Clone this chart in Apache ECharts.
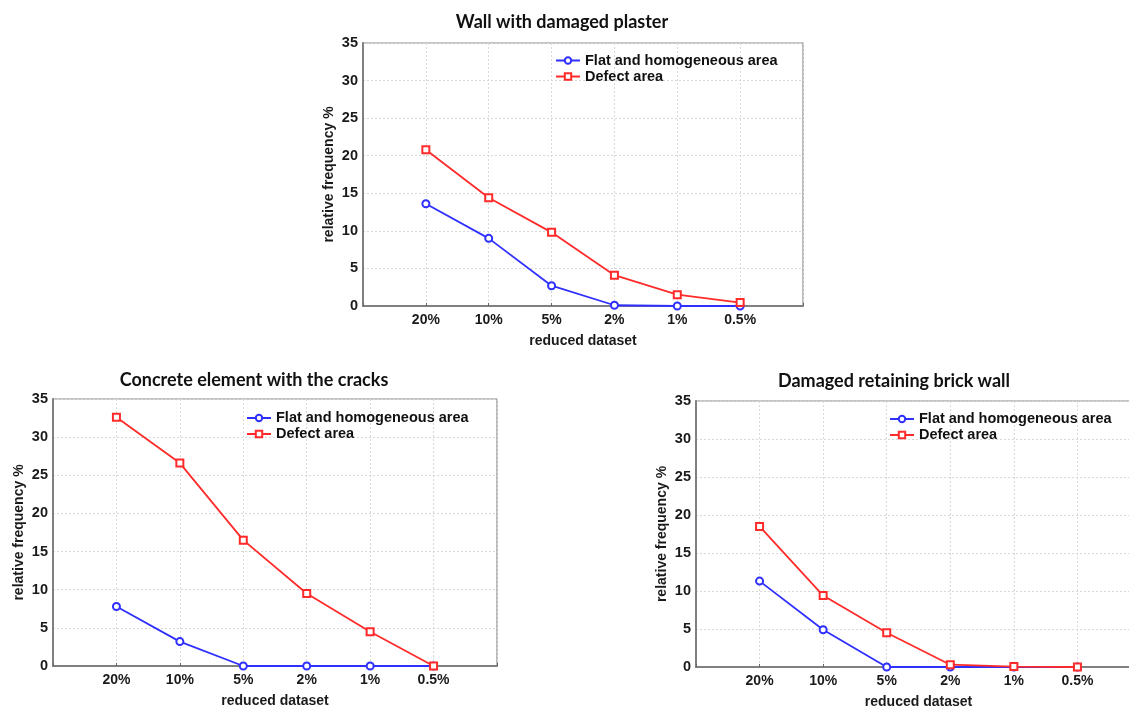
<!DOCTYPE html>
<html>
<head>
    <meta charset="utf-8" />
    <title>reduced dataset</title>
    <script src="https://cdn.jsdelivr.net/npm/echarts@6.0.0/dist/echarts.min.js"></script>
    <style>
        html, body { margin: 0; padding: 0; background: #fff; }
        #chart { width: 1129px; height: 709px; }
    </style>
</head>
<body>
    <div id="chart"></div>

    <script type="text/javascript">
        // reduced dataset levels (x axis)
        var levels = ['20%', '10%', '5%', '2%', '1%', '0.5%'];
        var seriesNames = ['Flat and homogeneous area', 'Defect area'];
        var panelTitles = ['Wall with damaged plaster', 'Concrete element with the cracks', 'Damaged retaining brick wall'];

        // relative frequency %
        var plasterFlat = [13.6, 9.0, 2.7, 0.1, 0, 0];
        var plasterDefect = [20.8, 14.4, 9.8, 4.1, 1.5, 0.45];
        var cracksFlat = [7.8, 3.2, 0, 0, 0, 0];
        var cracksDefect = [32.6, 26.6, 16.5, 9.5, 4.5, 0];
        var brickFlat = [11.3, 4.9, 0, 0, 0, 0];
        var brickDefect = [18.5, 9.4, 4.5, 0.3, 0.05, 0];

        var yMin = 0, yMax = 35, yStep = 5;

        // layout of the three panels (the right one runs off the page edge)
        var panels = [
            { grid: { left: 363, top: 43, width: 440, height: 263 }, titleX: 562, titleY: 13, legend: { left: 555, top: 52.5 }, flat: plasterFlat, defect: plasterDefect },
            { grid: { left: 53, top: 399, width: 444, height: 267 }, titleX: 254, titleY: 371, legend: { left: 246, top: 410 }, flat: cracksFlat, defect: cracksDefect },
            { grid: { left: 696, top: 401, width: 445, height: 266 }, titleX: 894, titleY: 372, legend: { left: 889, top: 411 }, flat: brickFlat, defect: brickDefect }
        ];

        var blue = '#2f2fff';
        var red = '#ff2b2b';
        var axisGray = '#808080';
        var gridLine = { show: true, lineStyle: { color: '#d8d8d8', type: [2, 2], width: 1 } };
        var fontFam = '"Liberation Sans", Arial, sans-serif';
        var labelFont = { color: '#1a1a1a', fontSize: 14, fontWeight: 'bold', fontFamily: fontFam };

        // empty slot at each end so the points sit one step inside the frame
        var xCats = [''].concat(levels).concat(['']);
        function pad(arr) {
            return ['-'].concat(arr).concat(['-']);
        }

        var option = {
            backgroundColor: '#fff',
            animation: false,
            title: [],
            legend: [],
            grid: [],
            xAxis: [],
            yAxis: [],
            series: []
        };

        panels.forEach(function(p, i) {
            option.title.push({
                text: panelTitles[i],
                left: p.titleX,
                top: p.titleY,
                padding: 0,
                textAlign: 'center',
                textStyle: { fontFamily: 'Lato, sans-serif', fontWeight: 'bold', fontSize: 18, color: '#111' }
            });
            option.grid.push({
                left: p.grid.left,
                top: p.grid.top,
                width: p.grid.width,
                height: p.grid.height,
                outerBoundsMode: 'none',
                containLabel: false,
                show: true,
                borderColor: '#8c8c8c',
                borderWidth: 1.2,
                backgroundColor: 'transparent'
            });
            option.xAxis.push({
                type: 'category',
                gridIndex: i,
                data: xCats,
                boundaryGap: false,
                name: 'reduced dataset',
                nameLocation: 'middle',
                nameGap: 28,
                nameTextStyle: labelFont,
                axisLine: { show: true, lineStyle: { color: axisGray, width: 2 } },
                axisTick: { show: true, inside: true, length: 3, lineStyle: { color: '#666' } },
                axisLabel: { margin: 7, interval: 0, color: labelFont.color, fontSize: 14, fontWeight: 'bold', fontFamily: fontFam },
                splitLine: gridLine
            });
            option.yAxis.push({
                type: 'value',
                gridIndex: i,
                min: yMin,
                max: yMax,
                interval: yStep,
                name: 'relative frequency %',
                nameLocation: 'middle',
                nameRotate: 90,
                nameGap: 27,
                nameTextStyle: labelFont,
                axisLine: { show: true, lineStyle: { color: axisGray, width: 2 } },
                axisTick: { show: false },
                axisLabel: { margin: 5, color: labelFont.color, fontSize: 14.5, fontWeight: 'bold', fontFamily: fontFam },
                splitLine: gridLine
            });
            option.legend.push({
                orient: 'vertical',
                left: p.legend.left,
                top: p.legend.top,
                padding: 0,
                itemGap: 0,
                itemWidth: 24,
                itemHeight: 8,
                textStyle: { color: '#111', fontSize: 14.5, fontWeight: 'bold', fontFamily: fontFam, lineHeight: 16 },
                data: [seriesNames[0] + '#' + i, seriesNames[1] + '#' + i],
                formatter: function(name) {
                    return name.split('#')[0];
                }
            });
            option.series.push({
                name: seriesNames[0] + '#' + i,
                type: 'line',
                xAxisIndex: i,
                yAxisIndex: i,
                data: pad(p.flat),
                symbol: 'emptyCircle',
                symbolSize: 7,
                color: blue,
                lineStyle: { width: 1.8, color: blue },
                itemStyle: { color: blue, borderWidth: 1.4 },
                z: 3
            });
            option.series.push({
                name: seriesNames[1] + '#' + i,
                type: 'line',
                xAxisIndex: i,
                yAxisIndex: i,
                data: pad(p.defect),
                symbol: 'emptyRect',
                symbolSize: 7,
                color: red,
                lineStyle: { width: 1.8, color: red },
                itemStyle: { color: red, borderWidth: 1.4 },
                z: 4
            });
        });

        var myChart = echarts.init(document.getElementById('chart'));
        myChart.setOption(option);
    </script>
</body>
</html>
